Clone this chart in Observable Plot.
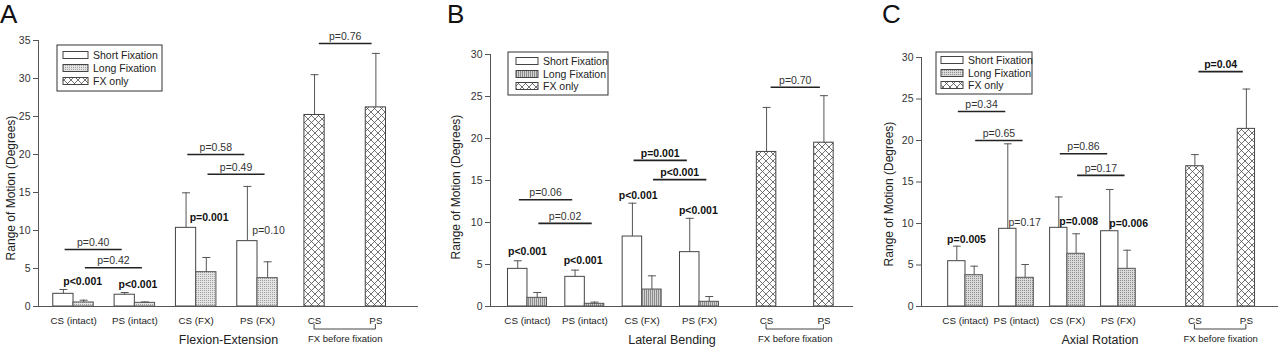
<!DOCTYPE html>
<html>
<head>
<meta charset="utf-8">
<script src="https://cdn.jsdelivr.net/npm/d3@7"></script>
<script src="https://cdn.jsdelivr.net/npm/@observablehq/plot@0.6"></script>
<style>
  body { margin: 0; background: #fff; }
  #root { position: relative; width: 1280px; height: 351px; overflow: hidden; background: #fff;
          font-family: "Liberation Sans", Arial, sans-serif; }
  .panel { position: absolute; top: 0; }
  .letter { height: 28px; font-size: 26px; line-height: 28px; color: #111; overflow: visible; }
  .panel svg { display: block; }
</style>
</head>
<body>
<div id="root"></div>
<script>
// ---------- DATA ----------
const fixGroups = ["CS (intact)", "PS (intact)", "CS (FX)", "PS (FX)"];
const fxGroups = ["CS", "PS"];
const seriesNames = ["Short Fixation", "Long Fixation", "FX only"];

// A: Flexion-Extension (bar mean, top of error whisker)
const feShort   = [1.67, 1.55, 10.35, 8.6];
const feShortUp = [2.24, 1.84, 14.96, 15.8];
const feLong    = [0.53, 0.48, 4.52, 3.73];
const feLongUp  = [0.83, 0.60, 6.45, 5.88];
const feFx      = [25.2, 26.2];
const feFxUp    = [30.5, 33.3];

// B: Lateral Bending
const lbShort   = [4.48, 3.53, 8.33, 6.47];
const lbShortUp = [5.44, 4.33, 12.3, 10.5];
const lbLong    = [1.03, 0.32, 2.02, 0.56];
const lbLongUp  = [1.67, 0.52, 3.65, 1.19];
const lbFx      = [18.4, 19.5];
const lbFxUp    = [23.7, 25.1];

// C: Axial Rotation
const arShort   = [5.46, 9.36, 9.48, 9.07];
const arShortUp = [7.27, 19.6, 13.2, 14.1];
const arLong    = [3.77, 3.46, 6.35, 4.54];
const arLongUp  = [4.86, 5.06, 8.76, 6.78];
const arFx      = [16.9, 21.4];
const arFxUp    = [18.3, 26.2];

// p-value brackets (between groups) and labels (within group)
const feBrackets = [
  {p: "p=0.40", bold: false, a: "CS (intact)", b: "PS (intact)", s: "short", y: 7.5},
  {p: "p=0.42", bold: false, a: "CS (intact)", b: "PS (intact)", s: "long", y: 5.1},
  {p: "p=0.58", bold: false, a: "CS (FX)", b: "PS (FX)", s: "short", y: 20.0},
  {p: "p=0.49", bold: false, a: "CS (FX)", b: "PS (FX)", s: "long", y: 17.4},
  {p: "p=0.76", bold: false, a: "CS", b: "PS", s: "fx", y: 34.6}
];
const feLabels = [
  {p: "p<0.001", bold: true, g: "CS (intact)", off: 0.15, y: 3.3},
  {p: "p<0.001", bold: true, g: "PS (intact)", off: 0.05, y: 2.9},
  {p: "p=0.001", bold: true, g: "CS (FX)", off: 0.21, y: 11.7},
  {p: "p=0.10", bold: false, g: "PS (FX)", off: 0.18, y: 10.0}
];
const lbBrackets = [
  {p: "p=0.06", bold: false, a: "CS (intact)", b: "PS (intact)", s: "short", y: 12.7},
  {p: "p=0.02", bold: false, a: "CS (intact)", b: "PS (intact)", s: "long", y: 9.9},
  {p: "p=0.001", bold: true, a: "CS (FX)", b: "PS (FX)", s: "short", y: 17.4},
  {p: "p<0.001", bold: true, a: "CS (FX)", b: "PS (FX)", s: "long", y: 15.1},
  {p: "p=0.70", bold: false, a: "CS", b: "PS", s: "fx", y: 26.1}
];
const lbLabels = [
  {p: "p<0.001", bold: true, g: "CS (intact)", off: 0.0, y: 6.5},
  {p: "p<0.001", bold: true, g: "PS (intact)", off: -0.03, y: 5.5},
  {p: "p<0.001", bold: true, g: "CS (FX)", off: -0.07, y: 13.2},
  {p: "p<0.001", bold: true, g: "PS (FX)", off: -0.02, y: 11.4}
];
const arBrackets = [
  {p: "p=0.34", bold: false, a: "CS (intact)", b: "PS (intact)", s: "short", y: 23.5},
  {p: "p=0.65", bold: false, a: "CS (intact)", b: "PS (intact)", s: "long", y: 20.0},
  {p: "p=0.86", bold: false, a: "CS (FX)", b: "PS (FX)", s: "short", y: 18.4},
  {p: "p=0.17", bold: false, a: "CS (FX)", b: "PS (FX)", s: "long", y: 15.8},
  {p: "p=0.04", bold: true, a: "CS", b: "PS", s: "fx", y: 28.3}
];
const arLabels = [
  {p: "p=0.005", bold: true, g: "CS (intact)", off: 0.02, y: 8.1},
  {p: "p=0.17", bold: false, g: "PS (intact)", off: 0.16, y: 10.1},
  {p: "p=0.008", bold: true, g: "CS (FX)", off: 0.22, y: 10.2},
  {p: "p=0.006", bold: true, g: "PS (FX)", off: 0.20, y: 10.0}
];

// ---------- LAYOUT ----------
const FONT = "'Liberation Sans', Arial, sans-serif";
const panels = [
  {key: "A", title: "Flexion-Extension", left: 0, width: 430, letterLeft: 0,
   marginLeft: 38, marginRight: 12, marginTop: 12, yMax: 35,
   xDomain: [-0.571, 5.625], slots: [0, 1, 2, 3, 3.93, 4.93], barW: 0.33, cap: 0.065,
   pattern: "dots", short: feShort, shortUp: feShortUp, long: feLong, longUp: feLongUp, fx: feFx, fxUp: feFxUp,
   brackets: feBrackets, labels: feLabels,
   legend: {x: 57, y: 17, w: 105, h: 46, sx: 6, sw: 25, tx: 36, rows: [10, 23, 36]},
   yLabel: {x: 11, y: 160}},
  {key: "B", title: "Lateral Bending", left: 430, width: 430, letterLeft: 17,
   marginLeft: 60, marginRight: 7, marginTop: 26, yMax: 30,
   xDomain: [-0.645, 5.686], slots: [0, 1, 2, 3, 4.17, 5.17], barW: 0.34, cap: 0.07,
   pattern: "vlines", short: lbShort, shortUp: lbShortUp, long: lbLong, longUp: lbLongUp, fx: lbFx, fxUp: lbFxUp,
   brackets: lbBrackets, labels: lbLabels,
   legend: {x: 78, y: 24, w: 100, h: 43, sx: 8, sw: 22, tx: 35, rows: [9, 22, 34]},
   yLabel: {x: 26, y: 159}},
  {key: "C", title: "Axial Rotation", left: 860, width: 420, letterLeft: 22,
   marginLeft: 61, marginRight: 2, marginTop: 29, yMax: 30,
   xDomain: [-0.863, 6.14], slots: [0, 1, 2, 3, 4.5, 5.51], barW: 0.34, cap: 0.075,
   pattern: "dots2", short: arShort, shortUp: arShortUp, long: arLong, longUp: arLongUp, fx: arFx, fxUp: arFxUp,
   brackets: arBrackets, labels: arLabels,
   legend: {x: 76, y: 24, w: 96, h: 42, sx: 5, sw: 22, tx: 32, rows: [8, 21, 33]},
   yLabel: {x: 29, y: 166}}
];

const SVG_H = 323;
const MARGIN_BOTTOM = 45;
const root = document.getElementById("root");

function addPatterns(svg, cfg) {
  const defs = d3.select(svg).insert("defs", ":first-child");
  const fx = defs.append("pattern").attr("id", "fx" + cfg.key)
    .attr("patternUnits", "userSpaceOnUse").attr("width", 7).attr("height", 7);
  fx.append("rect").attr("width", 7).attr("height", 7).attr("fill", "#fff");
  fx.append("path").attr("d", "M0,0L7,7M7,0L0,7M-1,6L1,8M6,-1L8,1M-1,1L1,-1M6,8L8,6")
    .attr("stroke", "#444").attr("stroke-width", 0.75).attr("fill", "none");
  const lp = defs.append("pattern").attr("id", "long" + cfg.key)
    .attr("patternUnits", "userSpaceOnUse").attr("width", 2).attr("height", 2);
  if (cfg.pattern === "vlines") {
    lp.append("rect").attr("width", 2).attr("height", 2).attr("fill", "#d2d2d2");
    lp.append("rect").attr("width", 1).attr("height", 2).attr("fill", "#8c8c8c");
  } else {
    const bg = cfg.pattern === "dots" ? "#e4e4e4" : "#dadada";
    const dot = cfg.pattern === "dots" ? "#a0a0a0" : "#8e8e8e";
    lp.append("rect").attr("width", 2).attr("height", 2).attr("fill", bg);
    lp.append("rect").attr("width", 1).attr("height", 1).attr("fill", dot);
  }
}

for (const cfg of panels) {
  const allGroups = fixGroups.concat(fxGroups);
  const slotOf = g => cfg.slots[allGroups.indexOf(g)];
  const centerOf = (g, s) => s === "short" ? slotOf(g) - cfg.barW / 2
                           : s === "long" ? slotOf(g) + cfg.barW / 2 : slotOf(g);
  const rows = [];
  fixGroups.forEach((g, i) => {
    const s = cfg.slots[i];
    rows.push({g, series: "short", x1: s - cfg.barW, x2: s, c: s - cfg.barW / 2, v: cfg.short[i], up: cfg.shortUp[i]});
    rows.push({g, series: "long", x1: s, x2: s + cfg.barW, c: s + cfg.barW / 2, v: cfg.long[i], up: cfg.longUp[i]});
  });
  fxGroups.forEach((g, j) => {
    const s = cfg.slots[4 + j];
    rows.push({g, series: "fx", x1: s - cfg.barW / 2, x2: s + cfg.barW / 2, c: s, v: cfg.fx[j], up: cfg.fxUp[j]});
  });
  const brackets = cfg.brackets.map(d => {
    const inset = d.s === "fx" ? 0.07 : 0;
    const x1 = centerOf(d.a, d.s) + (d.s === "fx" ? inset : 0.02);
    const x2 = centerOf(d.b, d.s) - (d.s === "fx" ? inset : 0.05);
    return {...d, x1, x2, xm: (x1 + x2) / 2};
  });
  const labels = cfg.labels.map(d => ({...d, x: slotOf(d.g) + d.off}));
  const tickLabels = allGroups.map(g => ({g, x: slotOf(g)}));
  const fxMid = (slotOf("CS") + slotOf("PS")) / 2;

  const txt = {fontSize: 10.5, fill: "#333"};
  const plot = Plot.plot({
    width: cfg.width,
    height: SVG_H,
    marginLeft: cfg.marginLeft,
    marginRight: cfg.marginRight,
    marginTop: cfg.marginTop,
    marginBottom: MARGIN_BOTTOM,
    style: {fontFamily: FONT, fontSize: "10.5px", color: "#333", background: "white", overflow: "visible"},
    x: {type: "linear", domain: cfg.xDomain, axis: null},
    y: {type: "linear", domain: [0, cfg.yMax], axis: null},
    marks: [
      // bars
      Plot.rectY(rows.filter(d => d.series === "short"), {x1: "x1", x2: "x2", y1: 0, y2: "v", fill: "#fff", stroke: "#444", strokeWidth: 1}),
      Plot.rectY(rows.filter(d => d.series === "long"), {x1: "x1", x2: "x2", y1: 0, y2: "v", fill: `url(#long${cfg.key})`, stroke: "#555", strokeWidth: 1}),
      Plot.rectY(rows.filter(d => d.series === "fx"), {x1: "x1", x2: "x2", y1: 0, y2: "v", fill: `url(#fx${cfg.key})`, stroke: "#444", strokeWidth: 1}),
      // error whiskers (upper only)
      Plot.ruleX(rows, {x: "c", y1: "v", y2: "up", stroke: "#555", strokeWidth: 1}),
      Plot.link(rows, {x1: d => d.c - cfg.cap, x2: d => d.c + cfg.cap, y1: "up", y2: "up", stroke: "#555", strokeWidth: 1}),
      // axes lines
      Plot.ruleX([cfg.xDomain[0]], {y1: 0, y2: cfg.yMax, stroke: "#555", strokeWidth: 1}),
      Plot.ruleY([0], {x1: cfg.xDomain[0], x2: cfg.xDomain[1], stroke: "#555", strokeWidth: 1}),
      Plot.axisY({ticks: d3.range(0, cfg.yMax + 1, 5), tickSize: 5, tickPadding: 3, fontSize: 10.5, label: null, stroke: "#555"}),
      // p-value brackets
      Plot.link(brackets, {x1: "x1", x2: "x2", y1: "y", y2: "y", stroke: "#222", strokeWidth: 1.6}),
      Plot.text(brackets.filter(d => !d.bold), {x: "xm", y: "y", text: "p", dy: -7, ...txt}),
      Plot.text(brackets.filter(d => d.bold), {x: "xm", y: "y", text: "p", dy: -7, fontSize: 10.5, fontWeight: "bold", fill: "#111"}),
      // within-group p labels
      Plot.text(labels.filter(d => !d.bold), {x: "x", y: "y", text: "p", ...txt}),
      Plot.text(labels.filter(d => d.bold), {x: "x", y: "y", text: "p", fontSize: 10.5, fontWeight: "bold", fill: "#111"}),
      // category labels
      Plot.text(tickLabels, {x: "x", y: 0, text: "g", dy: 14, fontSize: 9.8, fill: "#222"}),
      Plot.text(["FX before fixation"], {x: fxMid, y: 0, text: d => d, dy: 32, fontSize: 9.5, fill: "#222"}),
      // axis title
      Plot.text([cfg.title], {frameAnchor: "bottom", text: d => d, dy: 37, fontSize: 12.5, fill: "#222"})
    ]
  });

  addPatterns(plot, cfg);
  const sx = plot.scale("x"), sy = plot.scale("y");
  const sel = d3.select(plot);

  // FX-before-fixation bracket
  const bx1 = sx.apply(slotOf("CS")), bx2 = sx.apply(slotOf("PS")), by = sy.apply(0);
  sel.append("path")
    .attr("d", `M${bx1},${by + 18}V${by + 23}H${bx2}V${by + 18}`)
    .attr("fill", "none").attr("stroke", "#444").attr("stroke-width", 1);

  // y-axis label
  sel.append("text")
    .attr("transform", `translate(${cfg.yLabel.x},${cfg.yLabel.y}) rotate(-90)`)
    .attr("text-anchor", "middle").attr("dominant-baseline", "central")
    .attr("font-size", 12).attr("fill", "#222").attr("font-family", FONT)
    .text("Range of Motion (Degrees)");

  // legend
  const L = cfg.legend;
  const lg = sel.append("g").attr("transform", `translate(${L.x},${L.y})`);
  lg.append("rect").attr("width", L.w).attr("height", L.h).attr("fill", "#fff")
    .attr("stroke", "#333").attr("stroke-width", 1);
  const fills = ["#fff", `url(#long${cfg.key})`, `url(#fx${cfg.key})`];
  seriesNames.forEach((name, i) => {
    lg.append("rect").attr("x", L.sx).attr("y", L.rows[i] - 3.5).attr("width", L.sw).attr("height", 7)
      .attr("fill", fills[i]).attr("stroke", "#444").attr("stroke-width", 1);
    lg.append("text").attr("x", L.tx).attr("y", L.rows[i]).attr("dominant-baseline", "central")
      .attr("text-anchor", "start")
      .attr("font-size", 10.5).attr("fill", "#222").attr("font-family", FONT).text(name);
  });

  const wrap = document.createElement("div");
  wrap.className = "panel";
  wrap.style.left = cfg.left + "px";
  wrap.style.width = cfg.width + "px";
  const letter = document.createElement("div");
  letter.className = "letter";
  letter.style.paddingLeft = cfg.letterLeft + "px";
  letter.textContent = cfg.key;
  wrap.appendChild(letter);
  wrap.appendChild(plot);
  root.appendChild(wrap);
}
</script>
</body>
</html>
